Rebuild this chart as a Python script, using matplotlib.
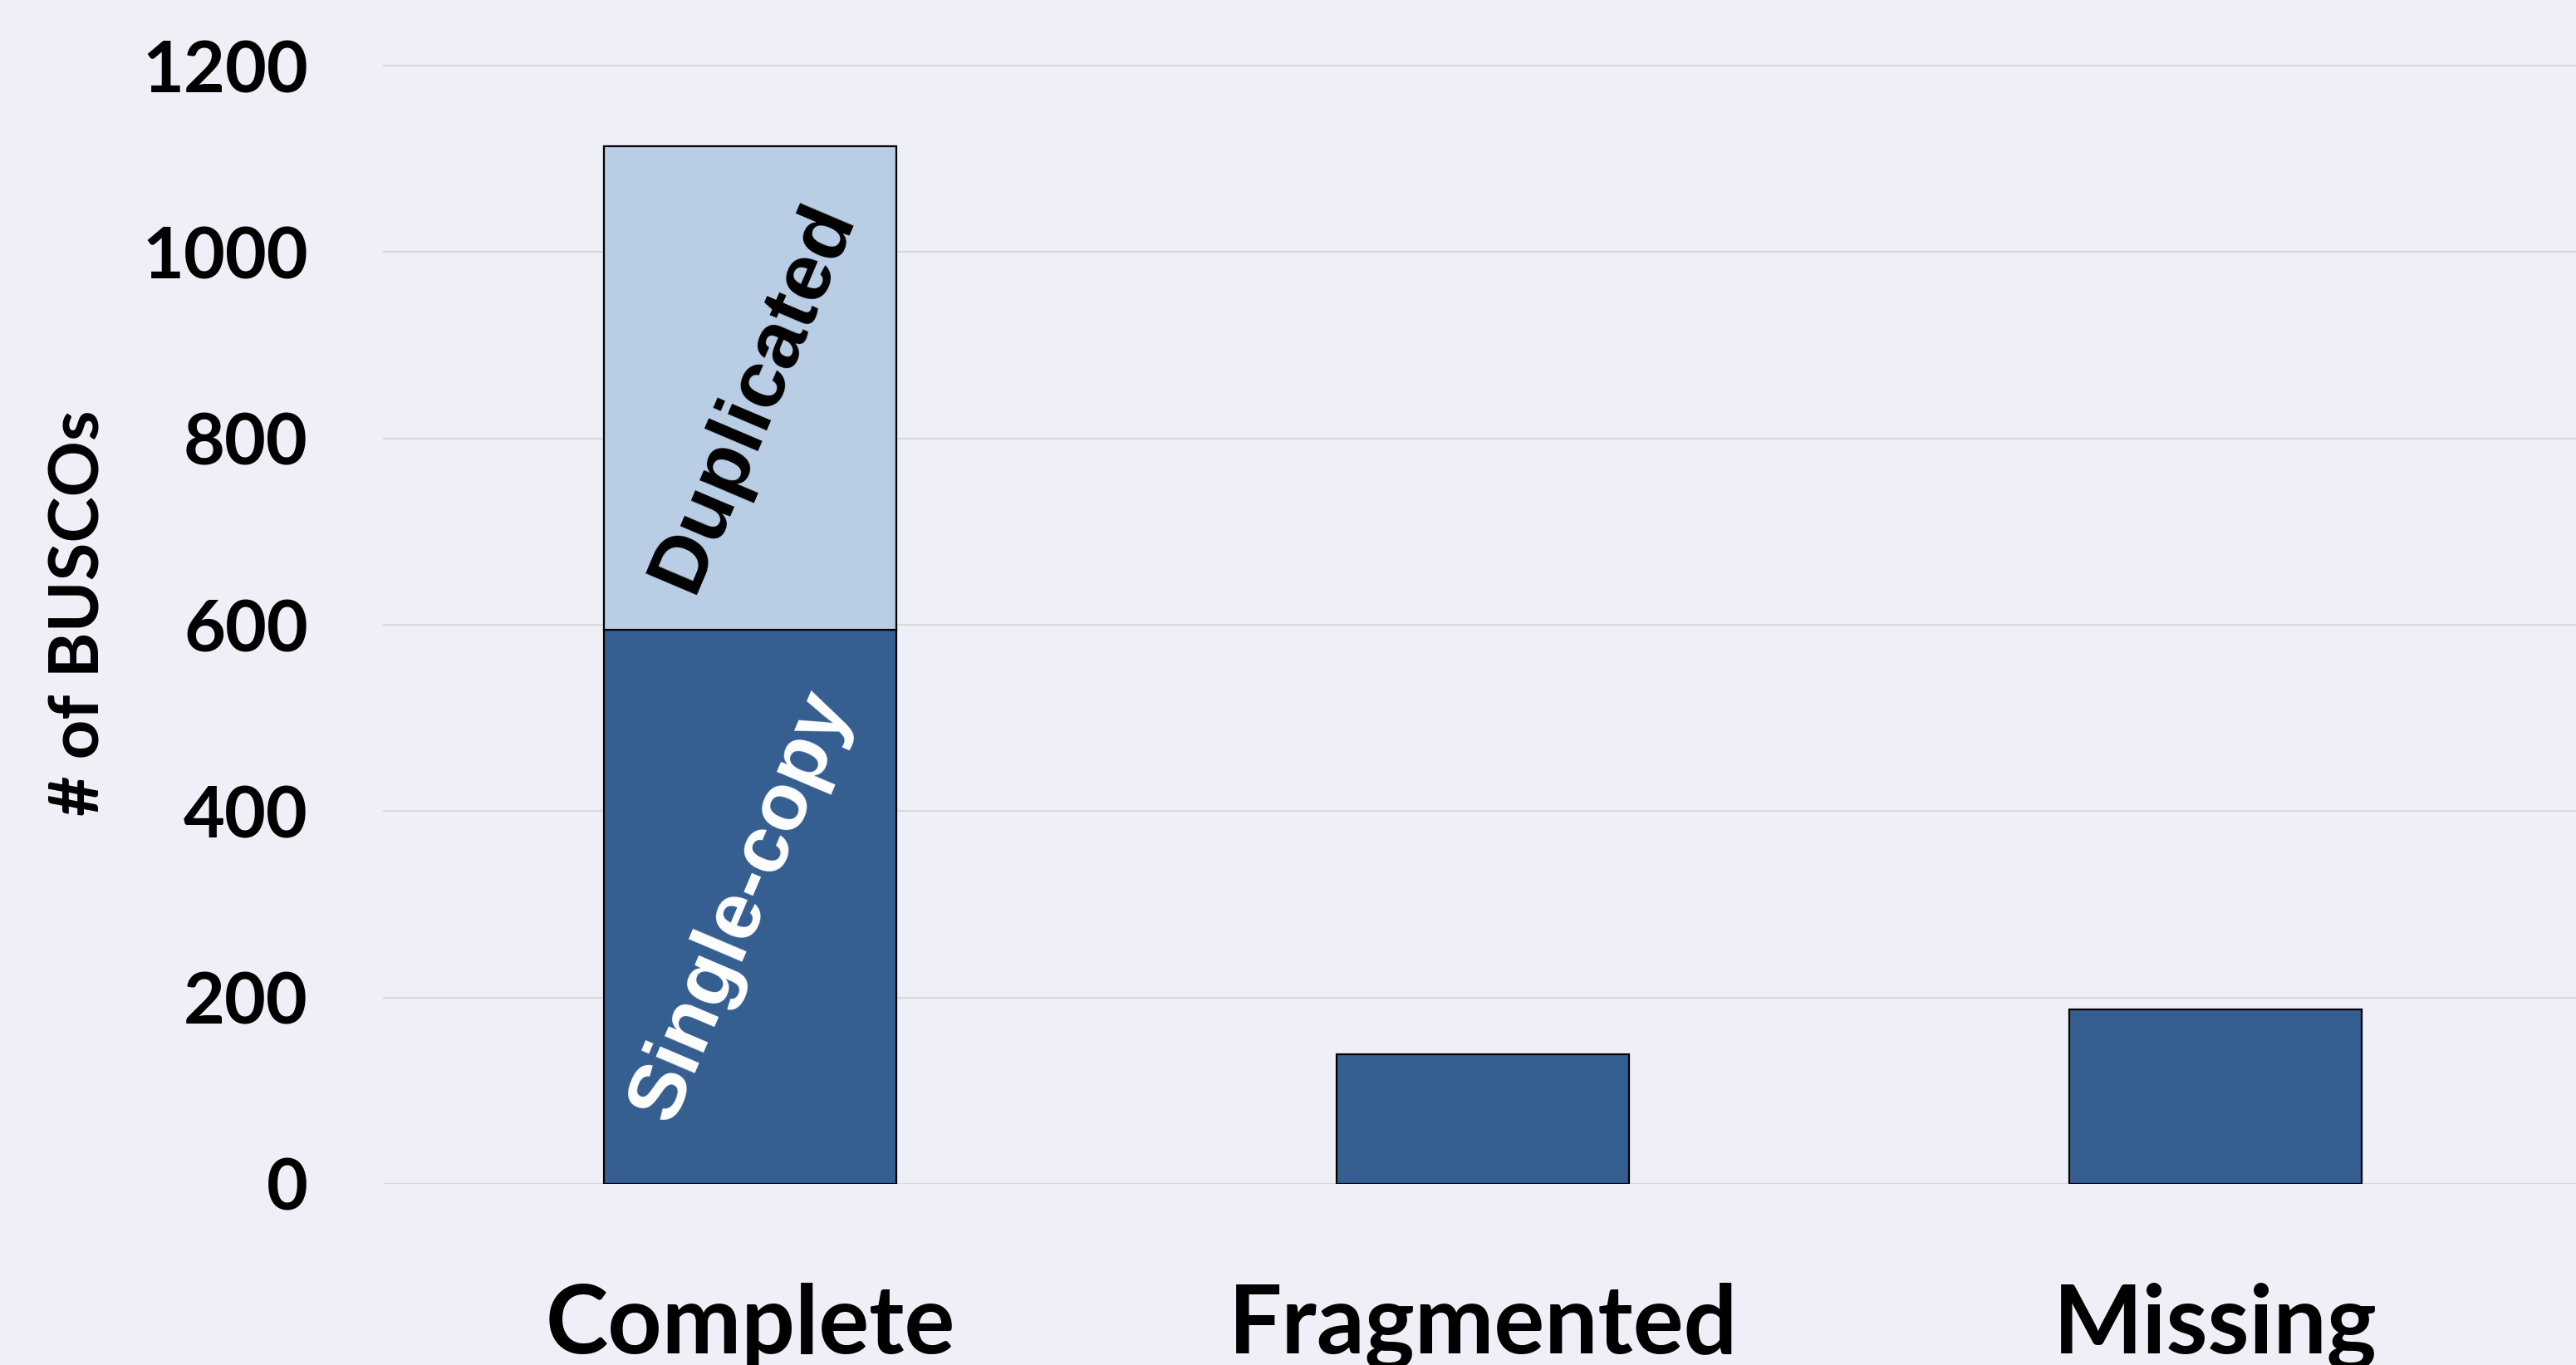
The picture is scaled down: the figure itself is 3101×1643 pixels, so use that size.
import numpy as np
import matplotlib.pyplot as plt

# BUSCO summary
categories = ['Complete', 'Fragmented', 'Missing']
single_copy = [595, 139, 187]      # lower (dark) segment
duplicated = [519, 0, 0]           # upper (light) segment, only for Complete
yticks = [0, 200, 400, 600, 800, 1000, 1200]

dark = '#365F91'
light = '#B9CDE5'
bg = '#EEEFF7'

fig = plt.figure(figsize=(31.01, 16.43), dpi=100, facecolor=bg)
ax = fig.add_axes([0.1487, 0.1327, 0.8513, 0.8369])
ax.set_facecolor(bg)

x = np.arange(len(categories))
ax.bar(x, single_copy, width=0.4, color=dark, edgecolor='black', linewidth=1.6, zorder=3)
ax.bar(x[:1], duplicated[:1], bottom=single_copy[:1], width=0.4, color=light,
       edgecolor='black', linewidth=1.6, zorder=3)

# labels inside the Complete bar
ax.text(x[0] - 0.012, single_copy[0] / 2, 'Single-copy', rotation=67, rotation_mode='anchor',
        ha='center', va='center', color='white', fontsize=70, fontweight='bold',
        family='Liberation Sans', zorder=4)
ax.text(x[0] + 0.005, single_copy[0] + duplicated[0] / 2 - 10, 'Duplicated', rotation=67,
        rotation_mode='anchor', ha='center', va='center', color='black', fontsize=70,
        fontweight='bold', family='Liberation Sans', zorder=4)

ax.set_xlim(-0.501, 2.492)
ax.set_ylim(0, 1226)
ax.set_yticks(yticks)
ax.set_yticklabels([str(v) for v in yticks], fontsize=62, fontweight='bold', family='Lato')
ax.set_xticks(x)
ax.set_xticklabels(categories, fontsize=82, fontweight='bold', family='Lato')
ax.tick_params(axis='y', length=0, pad=65)
ax.tick_params(axis='x', length=0, pad=86)
ax.yaxis.grid(True, color='#D9D9D9', linewidth=1.5, zorder=0)
ax.set_axisbelow(True)
for s in ax.spines.values():
    s.set_visible(False)

ax.set_ylabel('# of BUSCOs', fontsize=60, fontweight='bold', family='Lato')
ax.yaxis.set_label_coords(-0.124, 0.5)

fig.savefig('out.png', dpi=100, facecolor=bg)
